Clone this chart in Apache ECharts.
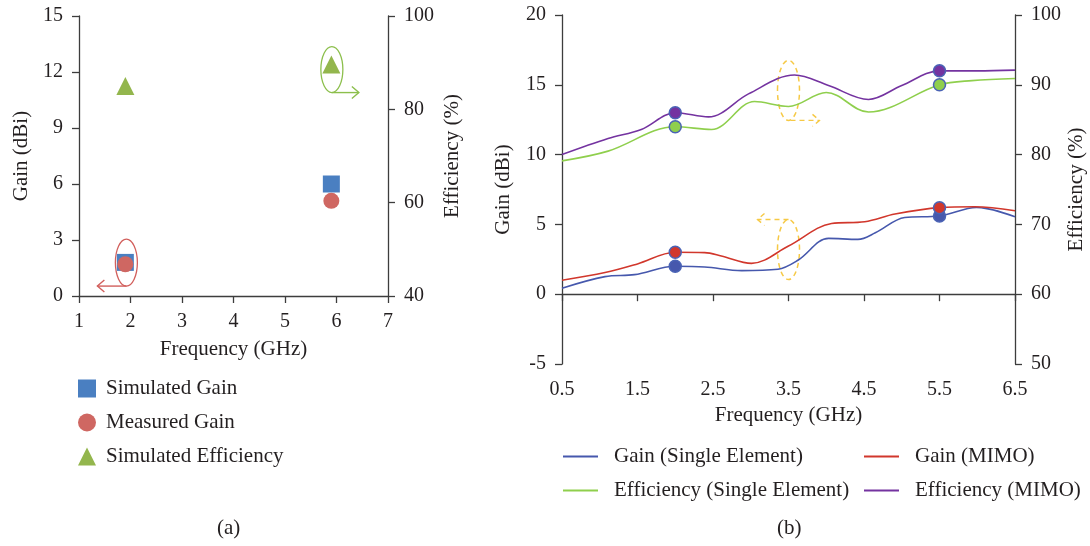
<!DOCTYPE html>
<html>
<head>
<meta charset="utf-8">
<script src="https://cdn.jsdelivr.net/npm/echarts@6/dist/echarts.min.js"></script>
<style>
  html, body { margin: 0; padding: 0; background: #fff; }
  #chart { width: 1090px; height: 546px; }
</style>
</head>
<body>
<div id="chart"></div>
<script>
// (a) measured / simulated points
var simGain = [[1.9, 1.8], [5.9, 6.0]];
var measGain = [[1.9, 1.7], [5.9, 5.1]];
var simEff = [[1.9, 85], [5.9, 89.6]];

// (b) curves, frequency in GHz
var fGainSingle = [0.5, 1.07, 1.46, 2.0, 2.39, 2.88, 3.36, 3.63, 4.03, 4.42, 4.65, 5.04, 5.5, 5.99, 6.5];
var gainSingle = [0.43, 1.26, 1.40, 2.0, 1.95, 1.69, 1.79, 2.45, 4.0, 3.93, 4.4, 5.5, 5.6, 6.21, 5.55];
var fGainMimo = [0.5, 1.07, 1.5, 2.0, 2.39, 2.61, 3.01, 3.5, 4.07, 4.51, 4.91, 5.5, 5.97, 6.5];
var gainMimo = [1.0, 1.55, 2.17, 3.0, 2.98, 2.74, 2.21, 3.45, 5.07, 5.19, 5.74, 6.2, 6.26, 5.98];
var fEffSingle = [0.5, 1.11, 2.0, 2.48, 3.05, 3.5, 4.0, 4.56, 5.5, 5.93, 6.5];
var effSingle = [79.1, 80.5, 84.0, 83.6, 87.6, 86.9, 88.9, 86.1, 90.0, 90.6, 90.9];
var fEffMimo = [0.5, 1.11, 1.55, 2.0, 2.44, 2.97, 3.58, 4.03, 4.56, 5.0, 5.5, 6.0, 6.5];
var effMimo = [80.0, 82.3, 83.6, 86.0, 85.4, 88.7, 91.4, 89.9, 87.9, 89.9, 92.0, 92.0, 92.1];

var markFreq = [2.0, 5.5];
var markGainSingle = [2.0, 5.6];
var markGainMimo = [3.0, 6.2];
var markEffSingle = [84, 90];
var markEffMimo = [86, 92];

var FONT = 'Liberation Serif';
var INK = '#231f20';
var AXIS = '#3d3d3d';

function pairs(xs, ys) {
    return xs.map(function (x, i) { return [x, ys[i]]; });
}

function axisBase(extra) {
    var a = {
        type: 'value',
        splitLine: { show: false },
        axisLine: { show: true, lineStyle: { color: AXIS, width: 1.3 } },
        axisTick: { show: true, length: 7, lineStyle: { color: AXIS, width: 1.3 } },
        axisLabel: { color: INK, fontFamily: FONT, fontSize: 20, margin: 16 },
        nameLocation: 'middle',
        nameTextStyle: { color: INK, fontFamily: FONT, fontSize: 21 }
    };
    for (var k in extra) a[k] = extra[k];
    return a;
}

var colors = {
    gainSingle: '#4658ad',
    gainMimo: '#d1372c',
    effSingle: '#8fcf4d',
    effMimo: '#7433a0',
    markBorder: '#4a63b5'
};

function curve(name, xs, ys, yIdx, color) {
    return {
        name: name, type: 'line', xAxisIndex: 1, yAxisIndex: yIdx,
        data: pairs(xs, ys), smooth: 0.35, showSymbol: false,
        lineStyle: { color: color, width: 1.6 },
        itemStyle: { color: color }
    };
}

function marks(name, ys, yIdx, color) {
    return {
        name: name, type: 'scatter', xAxisIndex: 1, yAxisIndex: yIdx, z: 5,
        data: pairs(markFreq, ys), symbol: 'circle', symbolSize: 12,
        itemStyle: { color: color, borderColor: colors.markBorder, borderWidth: 1.5, opacity: 1 }
    };
}

var chart = echarts.init(document.getElementById('chart'));

var legendText = { color: INK, fontFamily: FONT, fontSize: 21 };

var option = {
    backgroundColor: '#fff',
    animation: false,
    grid: [
        { left: 79, top: 16, width: 309, height: 280 },
        { left: 562, top: 15, width: 453, height: 349 }
    ],
    xAxis: [
        axisBase({ gridIndex: 0, min: 1, max: 7, interval: 1, name: 'Frequency (GHz)', nameGap: 43 }),
        axisBase({ gridIndex: 1, min: 0.5, max: 6.5, interval: 1, name: 'Frequency (GHz)', nameGap: 39 })
    ],
    yAxis: [
        axisBase({ gridIndex: 0, position: 'left', min: 0, max: 15, interval: 3, name: 'Gain (dBi)', nameGap: 47, nameRotate: 90 }),
        axisBase({ gridIndex: 0, position: 'right', min: 40, max: 100, interval: 20, name: 'Efficiency (%)', nameGap: 54, nameRotate: 90 }),
        axisBase({ gridIndex: 1, position: 'left', min: -5, max: 20, interval: 5, name: 'Gain (dBi)', nameGap: 48, nameRotate: 90 }),
        axisBase({ gridIndex: 1, position: 'right', min: 50, max: 100, interval: 10, name: 'Efficiency (%)', nameGap: 51, nameRotate: 90 })
    ],
    legend: [
        {
            orient: 'vertical', left: 78, top: 378, itemGap: 13, padding: 0,
            itemWidth: 18, itemHeight: 18,
            textStyle: Object.assign({ padding: [0, 0, 0, 5] }, legendText),
            data: [
                { name: 'Simulated Gain', icon: 'rect' },
                { name: 'Measured Gain', icon: 'circle' },
                { name: 'Simulated Efficiency', icon: 'triangle' }
            ]
        },
        {
            orient: 'vertical', left: 563, top: 446, itemGap: 13, padding: 0,
            itemWidth: 35, itemHeight: 2, icon: 'rect',
            itemStyle: { borderWidth: 0 },
            textStyle: Object.assign({ padding: [0, 0, 0, 11] }, legendText),
            data: ['Gain (Single Element)', 'Efficiency (Single Element)']
        },
        {
            orient: 'vertical', left: 864, top: 446, itemGap: 13, padding: 0,
            itemWidth: 35, itemHeight: 2, icon: 'rect',
            itemStyle: { borderWidth: 0 },
            textStyle: Object.assign({ padding: [0, 0, 0, 11] }, legendText),
            data: ['Gain (MIMO)', 'Efficiency (MIMO)']
        }
    ],
    series: [
        { name: 'Simulated Gain', type: 'scatter', xAxisIndex: 0, yAxisIndex: 0, symbol: 'rect', symbolSize: 17,
          data: simGain, itemStyle: { color: '#4a7fc1', opacity: 1 } },
        { name: 'Measured Gain', type: 'scatter', xAxisIndex: 0, yAxisIndex: 0, symbol: 'circle', symbolSize: 16,
          data: measGain, itemStyle: { color: '#cf6762', opacity: 1 } },
        { name: 'Simulated Efficiency', type: 'scatter', xAxisIndex: 0, yAxisIndex: 1, symbol: 'triangle', symbolSize: 18,
          data: simEff, itemStyle: { color: '#93b64d', opacity: 1 } },
        curve('Gain (Single Element)', fGainSingle, gainSingle, 2, colors.gainSingle),
        curve('Gain (MIMO)', fGainMimo, gainMimo, 2, colors.gainMimo),
        curve('Efficiency (Single Element)', fEffSingle, effSingle, 3, colors.effSingle),
        curve('Efficiency (MIMO)', fEffMimo, effMimo, 3, colors.effMimo),
        marks('mGainSingle', markGainSingle, 2, colors.gainSingle),
        marks('mGainMimo', markGainMimo, 2, colors.gainMimo),
        marks('mEffSingle', markEffSingle, 3, colors.effSingle),
        marks('mEffMimo', markEffMimo, 3, colors.effMimo)
    ]
};
chart.setOption(option);

// annotation ellipses + arrows, anchored to data positions
function px(xIdx, yIdx, pt) {
    return chart.convertToPixel({ xAxisIndex: xIdx, yAxisIndex: yIdx }, pt);
}
function arrow(x0, y, x1, color, dash) {
    var dir = x1 > x0 ? 1 : -1;
    var st = { stroke: color, lineWidth: 1.4, fill: 'none', lineDash: dash || null };
    return [
        { type: 'line', shape: { x1: x0, y1: y, x2: x1, y2: y }, style: st },
        { type: 'polyline', shape: { points: [[x1 - dir * 7, y - 6], [x1, y], [x1 - dir * 7, y + 6]] }, style: st }
    ];
}

var g = [];
var redC = px(0, 0, [1.92, 1.79]);
g.push({ type: 'ellipse', shape: { cx: redC[0], cy: redC[1], rx: 11, ry: 23.5 }, style: { fill: 'none', stroke: '#d25f5c', lineWidth: 1.3 } });
g = g.concat(arrow(redC[0], redC[1] + 23.5, redC[0] - 29, '#d25f5c'));

var grnC = px(0, 0, [5.91, 12.13]);
g.push({ type: 'ellipse', shape: { cx: grnC[0], cy: grnC[1], rx: 11, ry: 23 }, style: { fill: 'none', stroke: '#8cbf4c', lineWidth: 1.3 } });
g = g.concat(arrow(grnC[0], grnC[1] + 23, grnC[0] + 27, '#8cbf4c'));

var dash = [5, 4];
var upC = px(1, 2, [3.5, 14.6]);
g.push({ type: 'ellipse', shape: { cx: upC[0], cy: upC[1], rx: 11, ry: 30 }, style: { fill: 'none', stroke: '#f6c945', lineWidth: 1.5, lineDash: dash } });
g = g.concat(arrow(upC[0] + 2, upC[1] + 30, upC[0] + 31, '#f6c945', dash));

var loC = px(1, 2, [3.5, 3.2]);
g.push({ type: 'ellipse', shape: { cx: loC[0], cy: loC[1], rx: 11, ry: 30 }, style: { fill: 'none', stroke: '#f6c945', lineWidth: 1.5, lineDash: dash } });
g = g.concat(arrow(loC[0], loC[1] - 30, loC[0] - 31, '#f6c945', dash));

g.push({ type: 'text', left: 217, top: 518, style: { text: '(a)', font: '21px "' + FONT + '"', fill: INK } });
g.push({ type: 'text', left: 777, top: 518, style: { text: '(b)', font: '21px "' + FONT + '"', fill: INK } });

chart.setOption({ graphic: g });
</script>
</body>
</html>
